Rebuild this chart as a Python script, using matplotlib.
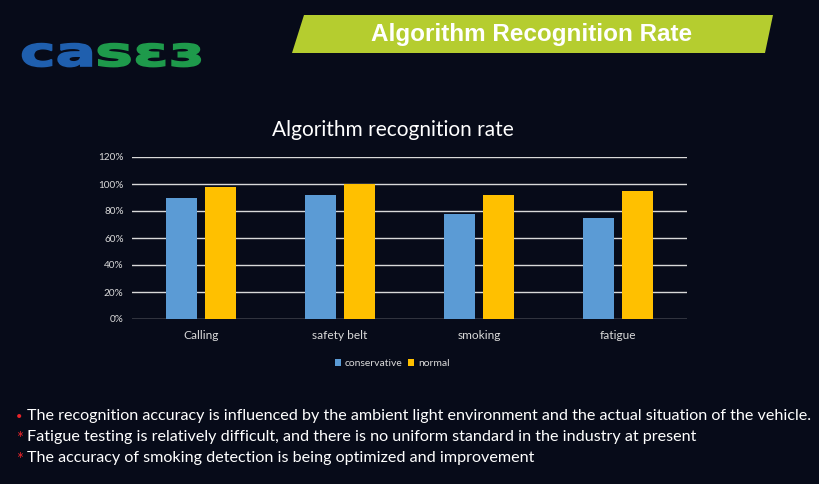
import matplotlib
matplotlib.use('Agg')
import matplotlib.pyplot as plt
import numpy as np
from matplotlib.patches import Polygon, PathPatch
from matplotlib.textpath import TextPath
from matplotlib.font_manager import FontProperties
from matplotlib.transforms import Affine2D

#%% data
categories = ['Calling', 'safety belt', 'smoking', 'fatigue']
conservative = [90, 92, 78, 75]
normal = [98, 100, 92, 95]
series_names = ['conservative', 'normal']
y_ticks = [0, 20, 40, 60, 80, 100, 120]
notes = ['The recognition accuracy is influenced by the ambient light environment and the actual situation of the vehicle.',
         'Fatigue testing is relatively difficult, and there is no uniform standard in the industry at present',
         'The accuracy of smoking detection is being optimized and improvement']
bullets = ['\u2022', '*', '*']

bg = '#070b19'
blue = '#5b9bd5'
yellow = '#ffc000'

fig = plt.figure(figsize=(8.19, 4.84), dpi=100, facecolor=bg)

#%% background layer in pixel coords
bgax = fig.add_axes([0, 0, 1, 1])
bgax.set_xlim(0, 819); bgax.set_ylim(484, 0)
bgax.axis('off')
bgax.set_facecolor(bg)
bgax.add_patch(Polygon([(304, 15), (773, 15), (765, 53), (292, 53)], closed=True,
                       facecolor='#b5cd2f', edgecolor='none'))
bgax.text(532, 35, 'Algorithm Recognition Rate', color='white', fontsize=17.5, fontweight='bold',
          family='Liberation Sans', ha='center', va='center')

# logo, stretched wide
logo_font = FontProperties(family='DejaVu Sans', weight='bold')
def logo_part(s, x0, sx, color):
    tp = TextPath((0, 0), s, size=40, prop=logo_font)
    tr = Affine2D().scale(sx, -1.0).translate(x0, 66) + bgax.transData
    bgax.add_patch(PathPatch(tp, transform=tr, facecolor=color, edgecolor=color, linewidth=1.2))
logo_part('ca', 20, 1.5, '#1f5fae')
logo_part('s\u025b\u025c', 95, 1.6, '#1e9a4b')

# chart title
bgax.text(393, 130, 'Algorithm recognition rate', color='white', fontsize=15, family='Lato',
          ha='center', va='center')

# notes
for i, (b, t) in enumerate(zip(bullets, notes)):
    y = 416 + i * 21
    bgax.text(16, y + (2 if i else 0), b, color='#e8242a', fontsize=12 if i else 8, family='Lato',
              ha='left', va='center')
    bgax.text(27, y, t, color='white', fontsize=11.6, family='Lato', ha='left', va='center')

#%% bar chart
ax = fig.add_axes([132 / 819, 1 - 319 / 484, 555 / 819, 162 / 484])
ax.set_facecolor('none')
x = np.arange(len(categories))
w = 0.223
off = 0.1405
ax.bar(x - off, conservative, width=w, color=blue, label=series_names[0], zorder=3)
ax.bar(x + off, normal, width=w, color=yellow, label=series_names[1], zorder=3)
ax.set_xlim(-0.5, len(categories) - 0.5)
ax.set_ylim(0, 120)
ax.set_yticks(y_ticks)
ax.set_yticklabels([f'{v}%' for v in y_ticks])
ax.set_xticks(x)
ax.set_xticklabels(categories)
ax.grid(axis='y', color='#d9d9d9', linewidth=1, zorder=0)
for s in ax.spines.values():
    s.set_visible(False)
ax.tick_params(axis='both', length=0, colors='#d9d9d9', labelsize=7.2)
for lab in ax.get_xticklabels() + ax.get_yticklabels():
    lab.set_family('Lato')
ax.tick_params(axis='x', pad=8, labelsize=8.6)
ax.tick_params(axis='y', pad=6)

leg = ax.legend(loc='upper center', bbox_to_anchor=(0.469, -0.19), ncol=2, frameon=False,
                handlelength=0.6, handleheight=0.6, handletextpad=0.4, columnspacing=0.5,
                prop={'family': 'Lato', 'size': 7.5})
for t in leg.get_texts():
    t.set_color('#d9d9d9')

fig.savefig('out.png', dpi=100, facecolor=bg)
